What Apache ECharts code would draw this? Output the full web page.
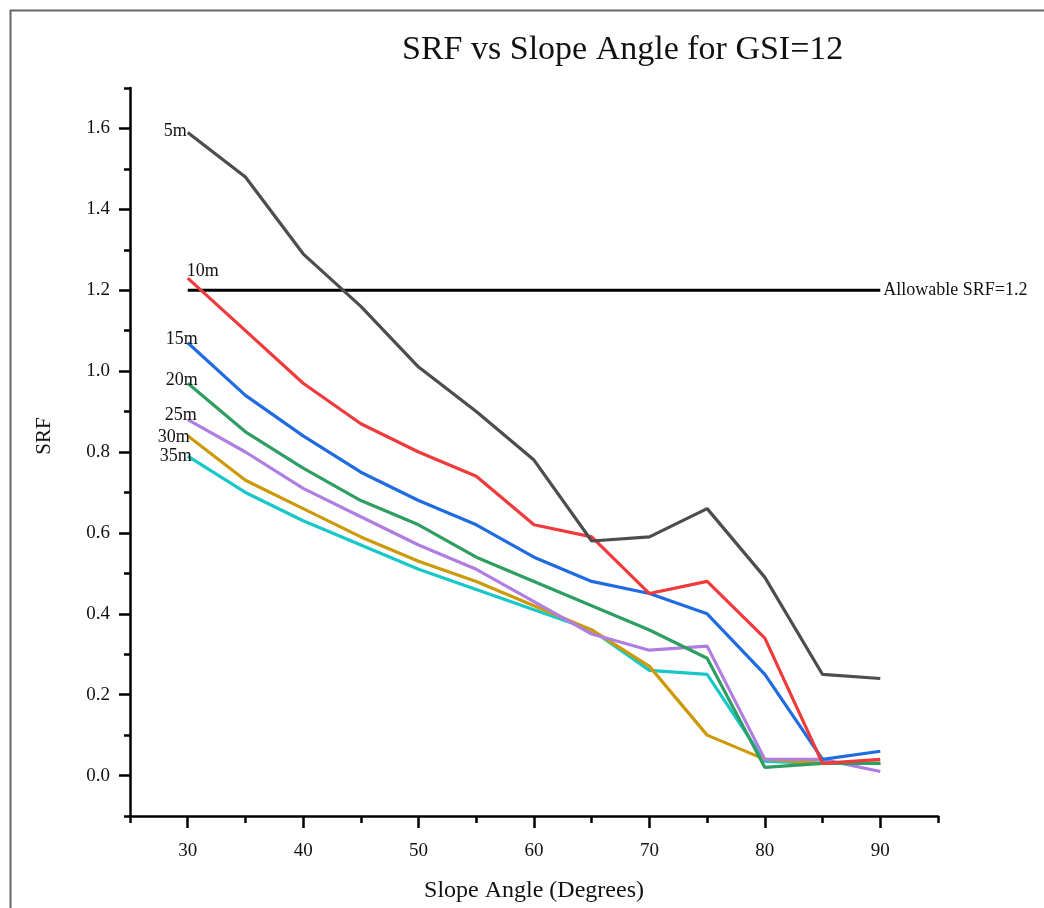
<!DOCTYPE html>
<html>
<head>
<meta charset="utf-8">
<script src="https://cdn.jsdelivr.net/npm/echarts@6/dist/echarts.min.js"></script>
<style>html,body{margin:0;padding:0;background:#fff}#c{width:1044px;height:908px}</style>
</head>
<body>
<div id="c"></div>
<script>
const slopeAngles = [30, 35, 40, 45, 50, 55, 60, 65, 70, 75, 80, 85, 90];
const srf5m  = [1.59, 1.48, 1.29, 1.16, 1.01, 0.90, 0.78, 0.58, 0.59, 0.66, 0.49, 0.25, 0.24];
const srf10m = [1.23, 1.10, 0.97, 0.87, 0.80, 0.74, 0.62, 0.59, 0.45, 0.48, 0.34, 0.03, 0.04];
const srf15m = [1.07, 0.94, 0.84, 0.75, 0.68, 0.62, 0.54, 0.48, 0.45, 0.40, 0.25, 0.04, 0.06];
const srf20m = [0.97, 0.85, 0.76, 0.68, 0.62, 0.54, 0.48, 0.42, 0.36, 0.29, 0.02, 0.03, 0.03];
const srf25m = [0.88, 0.80, 0.71, 0.64, 0.57, 0.51, 0.43, 0.35, 0.31, 0.32, 0.04, 0.04, 0.01];
const srf30m = [0.84, 0.73, 0.66, 0.59, 0.53, 0.48, 0.42, 0.36, 0.27, 0.10, 0.04, 0.03, 0.03];
const srf35m = [0.79, 0.70, 0.63, 0.57, 0.51, 0.46, 0.41, 0.36, 0.26, 0.25, 0.035, 0.03, 0.03];
const seriesNames = ['5m', '10m', '15m', '20m', '25m', '30m', '35m'];
const allowableSRF = 1.2;
const allowableLabel = 'Allowable SRF=1.2';
const xMajorTicks = [30, 40, 50, 60, 70, 80, 90];
const xMinorTicks = [25, 35, 45, 55, 65, 75, 85, 95];
const yMajorTicks = [0, 0.2, 0.4, 0.6, 0.8, 1.0, 1.2, 1.4, 1.6];
const yMinorTicks = [-0.1, 0.1, 0.3, 0.5, 0.7, 0.9, 1.1, 1.3, 1.5, 1.7];

const allData = [srf5m, srf10m, srf15m, srf20m, srf25m, srf30m, srf35m];
const colors = ['#4d4d4d', '#f03a3c', '#1f6ce0', '#2e9e62', '#b07ee0', '#cc9a06', '#18c8c8'];
const labelSpec = [
  {position: 'left', offset: [0, -1]},
  {position: 'right', offset: [-2, -7]},
  {position: 'left', offset: [11, -4]},
  {position: 'left', offset: [11, -3]},
  {position: 'left', offset: [10, -4]},
  {position: 'left', offset: [3, 1]},
  {position: 'left', offset: [5, 0]}
];
const FONT = '"Liberation Serif", "Times New Roman", serif';

const series = allData.map((arr, i) => ({
  name: seriesNames[i],
  type: 'line',
  xAxisIndex: 0, yAxisIndex: 0,
  symbol: 'circle', symbolSize: 0.01, showSymbol: true,
  itemStyle: {color: colors[i]},
  lineStyle: {color: colors[i], width: 3.2},
  z: 3 + (7 - i),
  data: arr.map((v, j) => {
    const item = {value: [slopeAngles[j], v]};
    if (j === 0) {
      item.label = {
        show: true, formatter: seriesNames[i], position: labelSpec[i].position,
        offset: labelSpec[i].offset, distance: 1,
        color: '#111', fontFamily: FONT, fontSize: 18
      };
    }
    return item;
  }),
  emphasis: {disabled: true}
}));

series.push({
  name: 'allowable', type: 'line', xAxisIndex: 0, yAxisIndex: 0,
  symbol: 'none',
  lineStyle: {color: '#000', width: 3},
  data: [[slopeAngles[0], allowableSRF], [slopeAngles[slopeAngles.length - 1], allowableSRF]],
  endLabel: {show: true, formatter: allowableLabel, distance: 3, color: '#111', fontFamily: FONT, fontSize: 18},
  z: 2,
  emphasis: {disabled: true}
});

const chart = echarts.init(document.getElementById('c'), null, {renderer: 'canvas'});
chart.setOption({
  backgroundColor: '#fff',
  animation: false,
  title: {
    text: 'SRF vs Slope Angle for GSI=12', left: 397, top: 28,
    textStyle: {fontFamily: FONT, fontSize: 34, fontWeight: 'normal', color: '#111'}
  },
  grid: {left: 130, right: 106, top: 88, bottom: 90, containLabel: false},
  xAxis: [
    {
      type: 'value', min: 25, max: 95,
      axisLine: {show: true, onZero: false, lineStyle: {color: '#000', width: 2.5}},
      axisTick: {show: true, customValues: xMajorTicks, length: 12, lineStyle: {color: '#000', width: 2.5}},
      axisLabel: {customValues: xMajorTicks, margin: 26, color: '#111', fontFamily: FONT, fontSize: 19},
      splitLine: {show: false},
      name: 'Slope Angle (Degrees)', nameLocation: 'middle', nameGap: 63,
      nameTextStyle: {fontFamily: FONT, fontSize: 24, color: '#111'}
    },
    {
      type: 'value', min: 25, max: 95, position: 'bottom',
      axisLine: {show: false, onZero: false},
      axisTick: {show: true, customValues: xMinorTicks, length: 7, lineStyle: {color: '#000', width: 2.5}},
      axisLabel: {show: false},
      splitLine: {show: false}
    }
  ],
  yAxis: [
    {
      type: 'value', min: -0.1, max: 1.7,
      axisLine: {show: true, onZero: false, lineStyle: {color: '#000', width: 2.5}},
      axisTick: {show: true, customValues: yMajorTicks, length: 11, lineStyle: {color: '#000', width: 2.5}},
      axisLabel: {customValues: yMajorTicks, margin: 20, color: '#111', fontFamily: FONT, fontSize: 19,
        formatter: v => v.toFixed(1)},
      splitLine: {show: false}
    },
    {
      type: 'value', min: -0.1, max: 1.7, position: 'left',
      axisLine: {show: false, onZero: false},
      axisTick: {show: true, customValues: yMinorTicks, length: 6, lineStyle: {color: '#000', width: 2.5}},
      axisLabel: {show: false},
      splitLine: {show: false}
    }
  ],
  graphic: [
    {type: 'rect', shape: {x: 10.5, y: 10.5, width: 1100, height: 1000},
      style: {fill: 'none', stroke: '#666', lineWidth: 2}, silent: true, z: -1},
    {type: 'text', x: 44, y: 436, rotation: Math.PI / 2,
      style: {text: 'SRF', fontFamily: FONT, fontSize: 21, fill: '#111', align: 'center', verticalAlign: 'middle'}}
  ],
  series: series
});
</script>
</body>
</html>
